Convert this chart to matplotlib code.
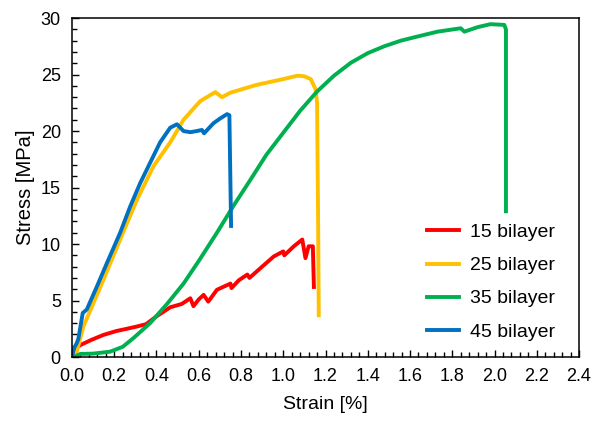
import numpy as np
import matplotlib.pyplot as plt
from matplotlib.ticker import MultipleLocator, FormatStrFormatter

plt.rcParams['font.family'] = ['Liberation Sans', 'DejaVu Sans']

# 15 bilayer
strain_15 = [0.02, 0.04, 0.09, 0.148, 0.21, 0.26, 0.307, 0.35, 0.40, 0.465, 0.52, 0.56,
             0.575, 0.60, 0.623, 0.645, 0.686, 0.75, 0.755, 0.79, 0.83, 0.84, 0.90, 0.955,
             1.0, 1.005, 1.05, 1.09, 1.105, 1.12, 1.14, 1.145]
stress_15 = [0.8, 1.06, 1.5, 1.95, 2.3, 2.5, 2.7, 2.9, 3.6, 4.4, 4.7, 5.2,
             4.5, 5.1, 5.5, 4.9, 5.95, 6.5, 6.1, 6.8, 7.3, 7.0, 8.0, 8.9,
             9.35, 9.0, 9.8, 10.4, 8.75, 9.8, 9.8, 6.2]

# 25 bilayer
strain_25 = [0.0, 0.02, 0.054, 0.148, 0.228, 0.307, 0.386, 0.465, 0.528, 0.607, 0.678,
             0.71, 0.75, 0.876, 1.0, 1.066, 1.10, 1.13, 1.153, 1.16, 1.165, 1.168]
stress_25 = [0.0, 0.3, 2.7, 6.8, 10.4, 13.9, 16.9, 19.0, 21.0, 22.65, 23.45,
             23.0, 23.4, 24.1, 24.6, 24.9, 24.85, 24.6, 23.7, 22.5, 12.0, 3.7]

# 35 bilayer
strain_35 = [0.02, 0.04, 0.10, 0.18, 0.24, 0.29, 0.37, 0.45, 0.528, 0.60, 0.686, 0.765,
             0.845, 0.92, 1.0, 1.08, 1.16, 1.24, 1.32, 1.40, 1.477, 1.556, 1.62, 1.73,
             1.84, 1.857, 1.92, 1.98, 2.046, 2.054, 2.054]
stress_35 = [0.1, 0.27, 0.3, 0.47, 0.9, 1.66, 3.0, 4.7, 6.5, 8.5, 11.0, 13.4,
             15.7, 17.9, 19.85, 21.8, 23.5, 24.9, 26.05, 26.9, 27.5, 28.0, 28.3, 28.8,
             29.1, 28.8, 29.2, 29.46, 29.4, 29.0, 12.9]

# 45 bilayer
strain_45 = [0.0, 0.01, 0.022, 0.03, 0.051, 0.07, 0.117, 0.165, 0.228, 0.275, 0.323,
             0.37, 0.417, 0.465, 0.497, 0.528, 0.56, 0.59, 0.615, 0.625, 0.67,
             0.70, 0.734, 0.745, 0.753]
stress_45 = [0.0, 0.8, 1.2, 1.6, 3.9, 4.2, 6.2, 8.3, 11.0, 13.3, 15.4,
             17.2, 19.0, 20.3, 20.6, 20.0, 19.9, 20.0, 20.1, 19.8, 20.7,
             21.1, 21.5, 21.4, 11.6]

labels = ['15 bilayer', '25 bilayer', '35 bilayer', '45 bilayer']
colors = ['#FF0000', '#FFC000', '#00B050', '#0070C0']

fig = plt.figure(figsize=(5.91, 4.21), dpi=100)
ax = fig.add_axes([0.1218, 0.152, 0.858, 0.805])

series = [(strain_15, stress_15), (strain_25, stress_25),
          (strain_35, stress_35), (strain_45, stress_45)]
for (x, y), lab, c in zip(series, labels, colors):
    ax.plot(x, y, color=c, lw=2.8, label=lab, solid_joinstyle='round')

ax.set_xlim(0, 2.4)
ax.set_ylim(0, 30)
ax.xaxis.set_major_locator(MultipleLocator(0.2))
ax.xaxis.set_minor_locator(MultipleLocator(0.04))
ax.yaxis.set_major_locator(MultipleLocator(5))
ax.yaxis.set_minor_locator(MultipleLocator(1))
ax.xaxis.set_major_formatter(FormatStrFormatter('%.1f'))
ax.tick_params(which='major', direction='in', length=5, width=1, labelsize=13)
ax.tick_params(which='minor', direction='in', length=3.5, width=1)
ax.tick_params(axis='x', pad=8)
ax.tick_params(axis='y', pad=8)
for s in ax.spines.values():
    s.set_linewidth(1.1)
    s.set_color('black')

ax.set_xlabel('Strain [%]', fontsize=14, labelpad=8)
ax.set_ylabel('Stress [MPa]', fontsize=14.5, labelpad=4)

ax.legend(loc='center left', bbox_to_anchor=(0.70, 0.221), frameon=False,
          fontsize=14, handlelength=1.65, handletextpad=0.55, labelspacing=0.8,
          borderpad=0, borderaxespad=0)

fig.savefig('out.png', dpi=100)
